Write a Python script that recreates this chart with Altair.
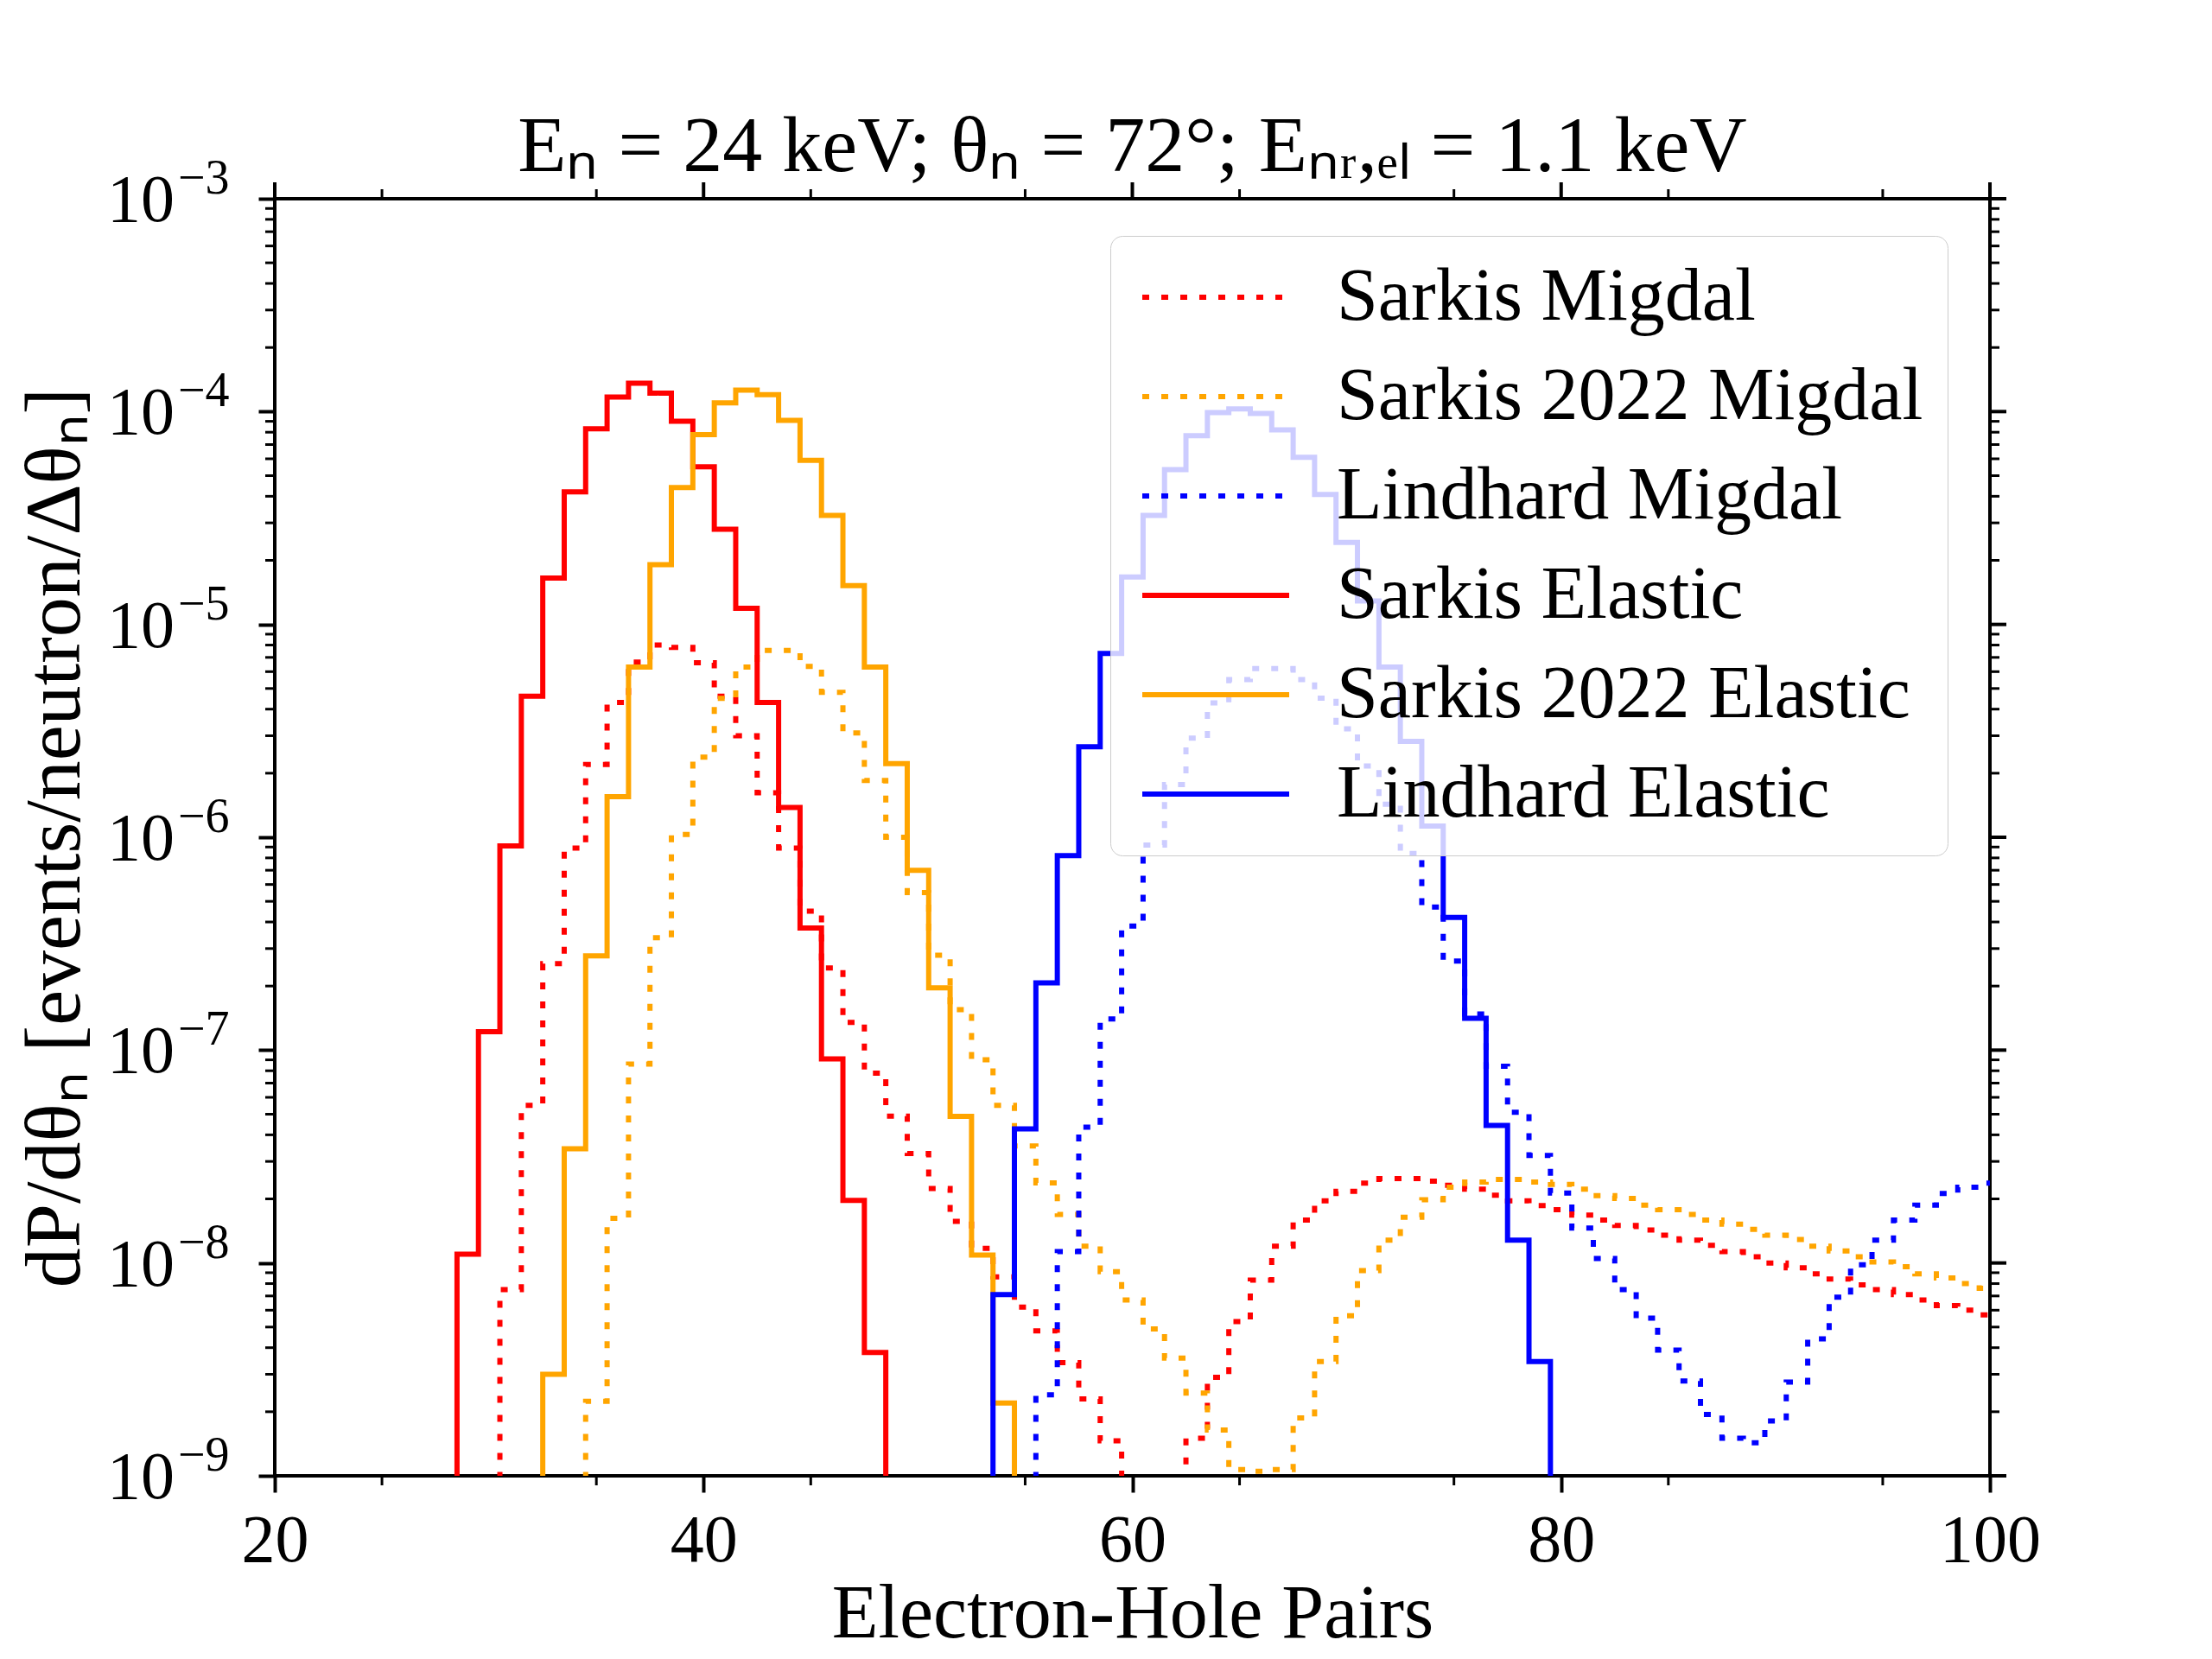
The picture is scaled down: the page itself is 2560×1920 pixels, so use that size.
import altair as alt
import pandas as pd

# ---------------- data ----------------
SERIES = ["Sarkis Migdal", "Sarkis 2022 Migdal", "Lindhard Migdal",
          "Sarkis Elastic", "Sarkis 2022 Elastic", "Lindhard Elastic"]
COLORS = ["#ff0000", "#ffa500", "#0000ff", "#ff0000", "#ffa500", "#0000ff"]

# bin values, one per electron-hole-pair bin, starting at the given bin
SARKIS_MIGDAL_START = 31
SARKIS_MIGDAL = [7.5e-9, 5.5e-8, 2.55e-7, 8.9e-7, 2.2e-6, 4.3e-6, 6.65e-6, 8.0e-6,
                 7.8e-6, 6.6e-6, 4.6e-6, 3.0e-6, 1.62e-6, 8.9e-7, 4.5e-7, 2.43e-7,
                 1.35e-7, 7.8e-8, 4.9e-8, 3.27e-8, 2.24e-8, 1.57e-8, 1.17e-8, 8.6e-9,
                 6.2e-9, 4.8e-9, 3.4e-9, 2.3e-9, 1.46e-9, 5e-10, 5e-10, 5e-10,
                 1.5e-9, 2.9e-9, 5.3e-9, 8.3e-9, 1.2e-8, 1.59e-8, 1.96e-8, 2.17e-8,
                 2.37e-8, 2.49e-8, 2.49e-8, 2.42e-8, 2.32e-8, 2.22e-8, 2.08e-8, 1.96e-8,
                 1.86e-8, 1.78e-8, 1.68e-8, 1.59e-8, 1.5e-8, 1.43e-8, 1.35e-8, 1.28e-8,
                 1.21e-8, 1.13e-8, 1.07e-8, 1.0e-8, 9.5e-9, 8.9e-9, 8.4e-9, 7.9e-9,
                 7.5e-9, 7.1e-9, 6.7e-9, 6.3e-9, 6.0e-9, 5.7e-9]

SARKIS2022_MIGDAL_START = 35
SARKIS2022_MIGDAL = [2.24e-9, 1.62e-8, 8.6e-8, 3.37e-7, 1.03e-6, 2.38e-6, 4.49e-6, 6.3e-6,
                     7.55e-6, 7.55e-6, 6.35e-6, 4.8e-6, 3.09e-6, 1.85e-6, 1.0e-6, 5.5e-7,
                     2.79e-7, 1.55e-7, 9.0e-8, 5.5e-8, 3.55e-8, 2.38e-8, 1.69e-8, 1.2e-8,
                     9.1e-9, 6.7e-9, 4.9e-9, 3.57e-9, 2.45e-9, 1.64e-9, 1.07e-9, 1.05e-9,
                     1.07e-9, 1.87e-9, 3.44e-9, 5.65e-9, 9.2e-9, 1.28e-8, 1.64e-8, 1.98e-8,
                     2.27e-8, 2.4e-8, 2.47e-8, 2.47e-8, 2.4e-8, 2.34e-8, 2.22e-8, 2.07e-8,
                     2.01e-8, 1.87e-8, 1.78e-8, 1.69e-8, 1.59e-8, 1.52e-8, 1.44e-8, 1.35e-8,
                     1.29e-8, 1.2e-8, 1.14e-8, 1.07e-8, 1.01e-8, 9.6e-9, 8.9e-9, 8.5e-9,
                     8.0e-9, 7.6e-9]

LINDHARD_MIGDAL_START = 56
LINDHARD_MIGDAL = [2.4e-9, 1.13e-8, 4.35e-8, 1.4e-7, 3.83e-7, 9.2e-7, 1.77e-6, 2.92e-6,
                   4.28e-6, 5.5e-6, 6.2e-6, 6.2e-6, 5.5e-6, 4.5e-6, 3.23e-6, 2.16e-6,
                   1.43e-6, 8.4e-7, 4.7e-7, 2.62e-7, 1.48e-7, 8.4e-8, 5.1e-8, 3.2e-8,
                   2.13e-8, 1.46e-8, 1.05e-8, 7.5e-9, 5.5e-9, 3.9e-9, 2.79e-9, 1.94e-9,
                   1.5e-9, 1.43e-9, 1.81e-9, 2.76e-9, 4.4e-9, 6.9e-9, 9.8e-9, 1.28e-8,
                   1.59e-8, 1.87e-8, 2.12e-8, 2.27e-8, 2.37e-8]

SARKIS_ELASTIC_START = 29
SARKIS_ELASTIC = [1.1e-8, 1.22e-7, 9.1e-7, 4.6e-6, 1.65e-5, 4.2e-5, 8.3e-5, 1.17e-4,
                  1.36e-4, 1.22e-4, 9.0e-5, 5.5e-5, 2.8e-5, 1.19e-5, 4.3e-6, 1.38e-6,
                  3.75e-7, 9.1e-8, 1.97e-8, 3.8e-9]

SARKIS2022_ELASTIC_START = 33
SARKIS2022_ELASTIC = [3.0e-9, 3.44e-8, 2.77e-7, 1.55e-6, 6.3e-6, 1.91e-5, 4.4e-5, 7.8e-5,
                      1.1e-4, 1.26e-4, 1.2e-4, 9.1e-5, 5.9e-5, 3.25e-5, 1.52e-5, 6.3e-6,
                      2.22e-6, 7.0e-7, 1.96e-7, 4.88e-8, 1.09e-8, 2.2e-9]

LINDHARD_ELASTIC_START = 54
LINDHARD_ELASTIC = [7.1e-9, 4.26e-8, 2.07e-7, 8.2e-7, 2.66e-6, 7.3e-6, 1.67e-5, 3.25e-5,
                    5.34e-5, 7.7e-5, 9.9e-5, 1.03e-4, 9.8e-5, 8.2e-5, 6.1e-5, 4.08e-5,
                    2.43e-5, 1.29e-5, 6.3e-6, 2.82e-6, 1.13e-6, 4.2e-7, 1.41e-7, 4.43e-8,
                    1.28e-8, 3.44e-9]

X_MAJOR = [20, 40, 60, 80, 100]
X_MINOR = [25, 35, 45, 55, 65, 75, 85, 95]
Y_MAJOR = [1e-9, 1e-8, 1e-7, 1e-6, 1e-5, 1e-4, 1e-3]
Y_EXPONENTS = [-9, -8, -7, -6, -5, -4, -3]
Y_TICK_BASE = ["10"] * 7
Y_TICK_EXP = ["−9", "−8", "−7", "−6", "−5", "−4", "−3"]
Y_MINOR_MULT = [2, 3, 4, 5, 6, 7, 8, 9]

X_DOMAIN = [20, 100]
Y_DOMAIN = [1e-9, 1e-3]
FLOOR = 1e-12  # below the axis: histogram edges drop off the plot

TITLE = "Eₙ = 24 keV; θₙ = 72°; Eₙᵣ,ₑₗ = 1.1 keV"
XTITLE = "Electron-Hole Pairs"
YTITLE = "dP/dθₙ [events/neutron/Δθₙ]"

# ---------------- build tables ----------------
def steps(name, start, vals):
    rows = [{"x": start - 1, "y": FLOOR, "series": name}]
    for i, v in enumerate(vals):
        rows.append({"x": start + i, "y": v, "series": name})
    last = start + len(vals) - 1
    if last < X_DOMAIN[1]:
        rows.append({"x": last + 1, "y": FLOOR, "series": name})
    return rows

dotted_rows = (steps(SERIES[0], SARKIS_MIGDAL_START, SARKIS_MIGDAL)
               + steps(SERIES[1], SARKIS2022_MIGDAL_START, SARKIS2022_MIGDAL)
               + steps(SERIES[2], LINDHARD_MIGDAL_START, LINDHARD_MIGDAL))
solid_rows = (steps(SERIES[3], SARKIS_ELASTIC_START, SARKIS_ELASTIC)
              + steps(SERIES[4], SARKIS2022_ELASTIC_START, SARKIS2022_ELASTIC)
              + steps(SERIES[5], LINDHARD_ELASTIC_START, LINDHARD_ELASTIC))
df_dot = pd.DataFrame(dotted_rows)
df_sol = pd.DataFrame(solid_rows)

y_minor = [m * 10.0 ** e for e in Y_EXPONENTS[:-1] for m in Y_MINOR_MULT]
df_xmaj = pd.DataFrame({"x": X_MAJOR})
df_xmin = pd.DataFrame({"x": X_MINOR})
df_ymaj = pd.DataFrame({"y": Y_MAJOR})
df_ymin = pd.DataFrame({"y": y_minor})
df_ylab = pd.DataFrame({"y": Y_MAJOR, "base": Y_TICK_BASE, "exp": Y_TICK_EXP})

# ---------------- styling ----------------
W, H = 1985, 1478
FONT = "Liberation Serif"
LW = 6
MAJ_LEN, MIN_LEN = 19, 11
MAJ_W, MIN_W = 4, 3
TICK_FS = 78

DASHES = [[8, 14], [8, 14], [8, 14], [1, 0], [1, 0], [1, 0]]

xscale = alt.Scale(domain=X_DOMAIN, nice=False, zero=False)
yscale = alt.Scale(type="log", domain=Y_DOMAIN, nice=False)

legend = alt.Legend(
    title=None, orient="none", legendX=967, legendY=43,
    symbolType="M-1,0H4", symbolSize=68 * 68, symbolStrokeWidth=LW,
    labelFont=FONT, labelFontSize=86, labelColor="black", labelOffset=148,
    labelLimit=1500, rowPadding=29, padding=28,
    fillColor="rgba(255,255,255,0.8)", strokeColor="#cccccc", cornerRadius=14,
)

x_axis = alt.Axis(
    values=X_MAJOR, title=XTITLE, format="d", grid=False, domain=False,
    tickSize=MAJ_LEN, tickWidth=MAJ_W, tickColor="black", labelFlush=False,
    labelFont=FONT, labelFontSize=TICK_FS, labelColor="black", labelPadding=17,
    titleFont=FONT, titleFontSize=88, titleFontWeight="normal", titleColor="black",
    titlePadding=2)
y_axis = alt.Axis(
    values=Y_MAJOR, title=YTITLE, labels=False, grid=False, domain=False,
    tickSize=MAJ_LEN, tickWidth=MAJ_W, tickColor="black",
    titleFont=FONT, titleFontSize=92, titleFontWeight="normal", titleColor="black",
    titlePadding=187)

x_enc = alt.X("x:Q", scale=xscale, axis=x_axis)
y_enc = alt.Y("y:Q", scale=yscale, axis=y_axis)
color_enc = alt.Color("series:N", scale=alt.Scale(domain=SERIES, range=COLORS),
                      legend=legend)
dash_enc = alt.StrokeDash("series:N", scale=alt.Scale(domain=SERIES, range=DASHES),
                          legend=legend)

dotted = alt.Chart(df_dot).mark_line(interpolate="step", strokeWidth=LW, clip=True).encode(
    x=x_enc, y=y_enc, color=color_enc, strokeDash=dash_enc)
solid = alt.Chart(df_sol).mark_line(interpolate="step", strokeWidth=LW, clip=True).encode(
    x=x_enc, y=y_enc, color=color_enc, strokeDash=dash_enc)

def xticks(df, length, width, top):
    y0 = 0 if top else H
    y1 = -length if top else H + length
    return alt.Chart(df).mark_rule(color="black", strokeWidth=width, clip=False).encode(
        x=x_enc, y=alt.value(y0), y2=alt.value(y1))

def yticks(df, length, width, right):
    x0 = W if right else 0
    x1 = W + length if right else -length
    return alt.Chart(df).mark_rule(color="black", strokeWidth=width, clip=False).encode(
        y=y_enc, x=alt.value(x0), x2=alt.value(x1))

ticks = [
    xticks(df_xmin, MIN_LEN, MIN_W, False),
    xticks(df_xmin, MIN_LEN, MIN_W, True),
    xticks(df_xmaj, MAJ_LEN, MAJ_W, True),
    yticks(df_ymin, MIN_LEN, MIN_W, False),
    yticks(df_ymin, MIN_LEN, MIN_W, True),
    yticks(df_ymaj, MAJ_LEN, MAJ_W, True),
]

# y tick labels: "10" with a raised exponent
ylab_base = alt.Chart(df_ylab).mark_text(
    align="right", baseline="alphabetic", font=FONT, fontSize=TICK_FS,
    color="black", dy=26, clip=False).encode(
    y=y_enc, x=alt.value(-116), text="base:N")
ylab_exp = alt.Chart(df_ylab).mark_text(
    align="left", baseline="alphabetic", font=FONT, fontSize=56,
    color="black", dy=-6, clip=False).encode(
    y=y_enc, x=alt.value(-112), text="exp:N")

chart = alt.layer(dotted, solid, *ticks, ylab_base, ylab_exp).properties(
    width=W, height=H,
    background="white",
    title=alt.TitleParams(TITLE, font=FONT, fontSize=92, fontWeight="normal",
                          color="black", anchor="middle", offset=-38),
    autosize=alt.AutoSizeParams(type="none"),
    padding={"left": 310, "top": 222, "right": 240, "bottom": 204},
).configure_view(
    stroke="black", strokeWidth=4
)

chart.save("out.html", embed_options={"renderer": "svg", "actions": False})
